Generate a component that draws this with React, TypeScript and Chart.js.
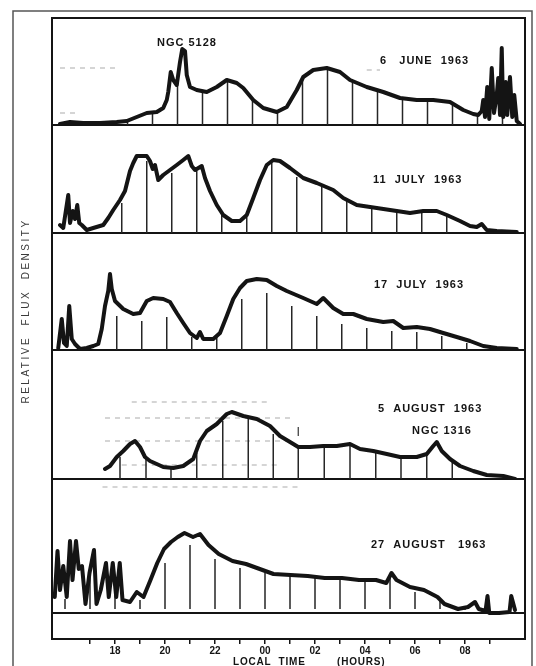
import React, { useEffect, useRef } from "react";
import { Chart, registerables } from "chart.js";

Chart.register(...registerables);

// Local time in hours, counted from midnight before the evening (24 = 00h, 32 = 08h)
const hourTicks = [17, 18, 19, 20, 21, 22, 23, 24, 25, 26, 27, 28, 29, 30, 31, 32, 33];

// ---- 6 June 1963 ----
const juneTimes = [15.8, 16.2, 16.73, 17.4, 18.07, 18.47, 18.87, 19.27, 19.67, 19.93, 20.07, 20.13, 20.23, 20.33, 20.47, 20.6, 20.69, 20.8, 20.87, 21.0, 21.27, 21.67, 22.07, 22.47, 22.87, 23.13, 23.53, 23.93, 24.47, 24.87, 25.27, 25.53, 25.93, 26.47, 27.0, 27.4, 28.07, 28.73, 29.4, 30.07, 30.73, 31.4, 31.93, 32.33, 32.53, 32.67, 32.73, 32.8, 32.89, 32.97, 33.07, 33.16, 33.27, 33.33, 33.4, 33.47, 33.53, 33.63, 33.69, 33.8, 33.89, 33.97, 34.07, 34.2];
const juneFlux = [1, 3, 2, 2, 3, 4, 8, 12, 13, 17, 25, 33, 53, 45, 40, 63, 76, 74, 50, 38, 35, 33, 38, 45, 42, 37, 25, 17, 13, 18, 35, 48, 55, 57, 53, 45, 38, 33, 27, 25, 25, 23, 15, 11, 10, 14, 25, 8, 38, 6, 57, 12, 30, 47, 10, 77, 8, 43, 10, 48, 8, 30, 4, 1];
const juneMarkTimes = [18.5, 19.5, 20.5, 21.5, 22.5, 23.5, 24.5, 25.5, 26.5, 27.5, 28.5, 29.5, 30.5, 31.5, 32.5, 33.5];
const juneMarkFlux = [4, 13, 42, 34, 44, 26, 14, 45, 57, 44, 35, 27, 25, 23, 10, 12];

// ---- 11 July 1963 ----
const july11Times = [15.8, 15.93, 16.13, 16.2, 16.31, 16.4, 16.49, 16.57, 16.67, 16.87, 17.13, 17.53, 17.73, 17.93, 18.2, 18.4, 18.6, 18.73, 18.87, 19.07, 19.27, 19.4, 19.51, 19.6, 19.73, 19.93, 20.2, 20.47, 20.73, 20.93, 21.07, 21.2, 21.47, 21.6, 21.8, 22.07, 22.33, 22.67, 23.0, 23.27, 23.53, 23.8, 24.07, 24.33, 24.6, 25.0, 25.53, 26.07, 26.73, 27.13, 27.67, 28.47, 29.27, 29.8, 30.33, 30.87, 31.27, 31.8, 32.2, 32.47, 32.67, 32.87, 33.27, 34.07];
const july11Flux = [8, 5, 38, 10, 22, 14, 28, 10, 8, 3, 5, 8, 15, 23, 33, 42, 62, 70, 77, 77, 77, 72, 64, 68, 53, 58, 63, 68, 73, 77, 67, 63, 67, 55, 42, 28, 18, 12, 12, 18, 35, 53, 68, 73, 72, 65, 55, 50, 43, 35, 28, 25, 22, 20, 22, 22, 18, 12, 7, 6, 9, 3, 2, 1];
const july11MarkTimes = [18.27, 19.27, 20.27, 21.27, 22.27, 23.27, 24.27, 25.27, 26.27, 27.27, 28.27, 29.27, 30.27, 31.27];
const july11MarkFlux = [30, 72, 60, 62, 18, 16, 70, 56, 46, 32, 25, 21, 21, 17];

// ---- 17 July 1963 ----
const july17Times = [15.73, 15.87, 15.96, 16.07, 16.17, 16.27, 16.4, 16.6, 16.87, 17.13, 17.33, 17.47, 17.6, 17.73, 17.8, 17.87, 18.0, 18.33, 18.73, 19.0, 19.27, 19.53, 19.93, 20.2, 20.47, 20.73, 21.0, 21.27, 21.4, 21.53, 21.93, 22.2, 22.47, 22.73, 23.0, 23.27, 23.67, 24.07, 24.47, 24.87, 25.53, 26.07, 26.33, 26.73, 27.13, 27.53, 28.07, 28.73, 29.13, 29.53, 30.07, 30.6, 31.13, 31.67, 32.2, 32.73, 33.27, 34.07];
const july17Flux = [2, 31, 7, 4, 44, 11, 6, 1, 2, 4, 6, 21, 44, 59, 76, 61, 49, 41, 36, 37, 49, 52, 51, 48, 37, 27, 17, 12, 18, 11, 11, 17, 34, 51, 62, 69, 71, 70, 64, 59, 52, 46, 52, 42, 36, 36, 31, 28, 29, 22, 23, 21, 17, 13, 9, 4, 2, 1];
const july17MarkTimes = [18.07, 19.07, 20.07, 21.07, 22.07, 23.07, 24.07, 25.07, 26.07, 27.07, 28.07, 29.07, 30.07, 31.07, 32.07];
const july17MarkFlux = [34, 29, 33, 13, 14, 51, 57, 44, 34, 26, 22, 19, 18, 14, 7];

// ---- 5 August 1963 ----
const aug5Times = [17.6, 17.8, 18.07, 18.33, 18.6, 18.8, 19.0, 19.2, 19.4, 19.67, 19.93, 20.33, 20.73, 21.13, 21.4, 21.67, 22.07, 22.47, 22.67, 23.13, 23.67, 24.2, 24.6, 25.0, 25.33, 25.8, 26.33, 26.87, 27.4, 27.8, 28.33, 28.87, 29.4, 30.07, 30.47, 30.73, 30.87, 31.07, 31.4, 31.8, 32.33, 32.87, 33.53, 34.0];
const aug5Flux = [10, 13, 22, 28, 35, 38, 32, 22, 18, 15, 12, 11, 13, 20, 38, 48, 55, 65, 67, 63, 60, 53, 43, 37, 32, 32, 33, 33, 35, 30, 28, 25, 22, 22, 25, 33, 37, 28, 20, 13, 8, 4, 3, 0];
const aug5MarkTimes = [18.2, 19.24, 20.24, 21.27, 22.31, 23.33, 24.33, 25.33, 26.37, 27.4, 28.43, 29.44, 30.47, 31.49];
const aug5MarkFlux = [22, 20, 11, 26, 58, 60, 45, 32, 32, 33, 27, 22, 24, 19];
const aug5ArrowTimes = [25.33, 25.33];
const aug5ArrowFlux = [43, 52];

// ---- 27 August 1963 ----
const aug27Times = [15.59, 15.7, 15.8, 15.93, 16.07, 16.2, 16.3, 16.44, 16.55, 16.68, 16.82, 16.98, 17.16, 17.26, 17.43, 17.64, 17.75, 17.91, 18.05, 18.19, 18.3, 18.6, 18.87, 19.14, 19.42, 19.69, 19.96, 20.24, 20.51, 20.78, 21.12, 21.4, 21.74, 22.15, 22.7, 23.24, 23.79, 24.34, 25.02, 25.71, 26.39, 27.08, 27.76, 28.44, 28.85, 29.06, 29.26, 29.8, 30.36, 30.9, 31.18, 31.72, 32.12, 32.4, 32.55, 32.82, 32.9, 32.97, 33.36, 33.78, 33.85, 34.0];
const aug27Flux = [16, 62, 23, 47, 16, 72, 33, 72, 44, 47, 9, 40, 63, 9, 23, 50, 16, 50, 16, 50, 13, 11, 21, 16, 33, 50, 64, 71, 76, 80, 76, 79, 68, 59, 52, 49, 44, 39, 38, 37, 35, 35, 33, 33, 30, 40, 33, 26, 23, 16, 9, 4, 6, 11, 4, 2, 17, 0, 0, 1, 17, 3];
const aug27MarkTimes = [16, 17, 18, 19, 20, 21, 22, 23, 24, 25, 26, 27, 28, 29, 30, 31, 32];
const aug27MarkFlux = [14, 40, 18, 13, 50, 68, 54, 45, 40, 38, 35, 33, 33, 35, 21, 13, 3];

// faint dashed scan artefacts (panel, from, to, level)
const artefactPanels = ["p1", "p1", "p1", "p4", "p4", "p4", "p4", "p5"];
const artefactStart = [15.8, 15.8, 28.07, 18.67, 17.6, 17.6, 18.27, 17.5];
const artefactEnd = [18.07, 16.4, 28.6, 24.2, 25.0, 25.0, 24.6, 25.4];
const artefactLevel = [57, 12, 55, 77, 61, 38, 14, 126];

const panels = [
  { id: "p1", times: juneTimes, flux: juneFlux, markT: juneMarkTimes, markF: juneMarkFlux, base: 0, min: 0, max: 107 },
  { id: "p2", times: july11Times, flux: july11Flux, markT: july11MarkTimes, markF: july11MarkFlux, base: 0, min: 0, max: 108 },
  { id: "p3", times: july17Times, flux: july17Flux, markT: july17MarkTimes, markF: july17MarkFlux, base: 0, min: 0, max: 117 },
  { id: "p4", times: aug5Times, flux: aug5Flux, markT: aug5MarkTimes, markF: aug5MarkFlux, base: 0, min: 0, max: 129 },
  { id: "p5", times: aug27Times, flux: aug27Flux, markT: aug27MarkTimes, markF: aug27MarkFlux, base: 4, min: -26, max: 134 },
];

const annotations = [
  { panel: "p1", text: "NGC 5128", t: 19.68, v: 82.5 },
  { panel: "p1", text: "6   JUNE  1963", t: 28.6, v: 64 },
  { panel: "p2", text: "11  JULY  1963", t: 28.32, v: 53 },
  { panel: "p3", text: "17  JULY  1963", t: 28.36, v: 65.5 },
  { panel: "p4", text: "5  AUGUST  1963", t: 28.52, v: 70.3 },
  { panel: "p4", text: "NGC 1316", t: 29.88, v: 47.7 },
  { panel: "p5", text: "27  AUGUST   1963", t: 28.24, v: 68 },
];

const INK = "#141414";

export default function App() {
  const ref = useRef<HTMLCanvasElement | null>(null);

  useEffect(() => {
    if (!ref.current) return;
    const datasets: any[] = [];
    panels.forEach((p) => {
      datasets.push({
        type: "line",
        data: p.times.map((t, i) => ({ x: t, y: p.flux[i] })),
        yAxisID: p.id,
        borderColor: INK,
        borderWidth: 4,
        pointRadius: 0,
        tension: 0,
        borderJoinStyle: "round",
        borderCapStyle: "round",
      });
      datasets.push({
        type: "line",
        data: p.markT.flatMap((t, i) => [
          { x: t, y: p.base },
          { x: t, y: p.markF[i] },
          { x: t, y: null },
        ]),
        yAxisID: p.id,
        borderColor: "#262626",
        borderWidth: 1.5,
        pointRadius: 0,
        spanGaps: false,
        tension: 0,
      });
    });
    datasets.push({
      type: "line",
      data: aug5ArrowTimes.map((t, i) => ({ x: t, y: aug5ArrowFlux[i] })),
      yAxisID: "p4",
      borderColor: "#333",
      borderWidth: 1.2,
      pointRadius: 0,
    });
    artefactPanels.forEach((pid, i) => {
      datasets.push({
        type: "line",
        data: [
          { x: artefactStart[i], y: artefactLevel[i] },
          { x: artefactEnd[i], y: artefactLevel[i] },
        ],
        yAxisID: pid,
        borderColor: "rgba(90,90,90,0.5)",
        borderWidth: 1,
        borderDash: [5, 5],
        pointRadius: 0,
      });
    });

    const yAxis = (p: any) => ({
      type: "linear",
      position: "left",
      stack: "panels",
      stackWeight: p.max - p.min,
      min: p.min,
      max: p.max,
      border: { display: false },
      grid: { color: INK, lineWidth: 2, drawTicks: false },
      ticks: { display: false },
      afterBuildTicks: (axis: any) => {
        axis.ticks = [{ value: 0 }];
      },
      afterFit: (axis: any) => {
        axis.width = 0;
      },
    });

    const scales: any = {
      x: {
        type: "linear",
        position: "bottom",
        min: 15.48,
        max: 34.4,
        border: { display: false },
        grid: { drawOnChartArea: false, drawTicks: true, tickLength: 5, color: INK, lineWidth: 1.5 },
        ticks: {
          autoSkip: false,
          maxRotation: 0,
          padding: 1,
          color: INK,
          font: { family: "Liberation Sans", size: 10, weight: "bold" },
          callback: (v: any) => {
            const h = Math.round(v) % 24;
            return h % 2 === 0 ? String(h).padStart(2, "0") : "";
          },
        },
        afterBuildTicks: (axis: any) => {
          axis.ticks = hourTicks.map((v) => ({ value: v }));
        },
        afterFit: (axis: any) => {
          axis.height = 27;
        },
      },
    };
    // first defined is placed at the bottom of the stack
    [...panels].reverse().forEach((p) => {
      scales[p.id] = yAxis(p);
    });

    const decor = {
      id: "decor",
      afterDatasetsDraw(chart: any) {
        const { ctx, chartArea } = chart;
        ctx.save();
        ctx.strokeStyle = INK;
        ctx.lineWidth = 2;
        ctx.strokeRect(chartArea.left, chartArea.top, chartArea.right - chartArea.left, chartArea.bottom - chartArea.top);
        ctx.restore();
      },
      afterDraw(chart: any) {
        const { ctx, scales: sc } = chart;
        ctx.save();
        // outer page frame
        ctx.strokeStyle = "#555";
        ctx.lineWidth = 1.5;
        ctx.beginPath();
        ctx.moveTo(13, 700);
        ctx.lineTo(13, 11);
        ctx.lineTo(532, 11);
        ctx.lineTo(532, 700);
        ctx.stroke();
        // annotations
        ctx.fillStyle = INK;
        ctx.font = 'bold 11px "Liberation Sans"';
        (ctx as any).letterSpacing = "1px";
        ctx.textAlign = "left";
        ctx.textBaseline = "middle";
        annotations.forEach((a) => {
          ctx.fillText(a.text, sc.x.getPixelForValue(a.t), sc[a.panel].getPixelForValue(a.v));
        });
        // x title
        ctx.font = 'bold 10px "Liberation Sans"';
        (ctx as any).letterSpacing = "0.8px";
        ctx.textBaseline = "top";
        ctx.fillText("LOCAL  TIME", 233, 657);
        ctx.fillText("(HOURS)", 337, 657);
        // y title
        ctx.translate(26, 311);
        ctx.rotate(-Math.PI / 2);
        ctx.font = '10px "Liberation Sans"';
        (ctx as any).letterSpacing = "2.5px";
        ctx.fillStyle = "#3a3a3a";
        ctx.textAlign = "center";
        ctx.textBaseline = "middle";
        ctx.fillText("RELATIVE  FLUX  DENSITY", 0, 0);
        ctx.restore();
      },
    };

    const chart = new Chart(ref.current, {
      type: "line",
      data: { datasets },
      options: {
        responsive: false,
        devicePixelRatio: 1,
        animation: false,
        layout: { padding: { left: 52, right: 11, top: 18, bottom: 0 } },
        plugins: { legend: { display: false }, tooltip: { enabled: false } },
        scales,
      },
      plugins: [decor],
    } as any);
    return () => chart.destroy();
  }, []);

  return (
    <div style={{ position: "absolute", left: 0, top: 0, width: 536, height: 666, background: "#fff" }}>
      <canvas ref={ref} width={536} height={666} />
    </div>
  );
}
